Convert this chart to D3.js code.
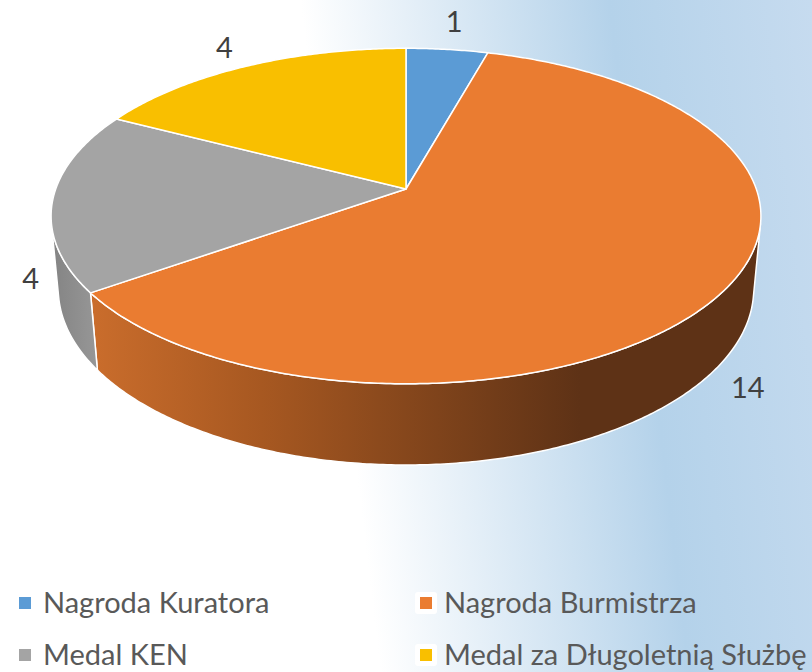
<!DOCTYPE html>
<html>
<head>
<meta charset="utf-8">
<script src="https://cdn.jsdelivr.net/npm/d3@7"></script>
<style>
  html, body { margin: 0; padding: 0; background: #fff; }
  svg { display: block; }
  text { font-family: Lato, "Noto Sans", sans-serif; }
</style>
</head>
<body>
<div id="chart"></div>
<script>
// Chart data
var categories = ['Nagroda Kuratora', 'Nagroda Burmistrza', 'Medal KEN', 'Medal za Długoletnią Służbę'];
var values = [1, 14, 4, 4];
var topColors = ['#5b9bd5', '#ea7c31', '#a4a4a4', '#f9bf00'];

var width = 812,
    height = 672;

// 3D projection set-up (tilted disc seen in perspective)
var cx = 406, cy = 189,
    focal = 1923, dist = 5.49,
    tilt = Math.asin(0.4664),
    depth = 0.238;

function project(theta, r, y) {
    var X = r * Math.sin(theta),
        Z = -r * Math.cos(theta),
        v = Z * Math.sin(tilt) - y * Math.cos(tilt),
        w = dist - Z * Math.cos(tilt) - y * Math.sin(tilt);
    return [cx + focal * X / w, cy + focal * v / w];
}

// wall faces the viewer where cos(theta) < -1/(dist*cos(tilt))
var edge = Math.acos(-1 / (dist * Math.cos(tilt)));
var visFrom = edge, visTo = 2 * Math.PI - edge;

var svg = d3.select('#chart').append('svg')
    .attr('width', width)
    .attr('height', height);

var defs = svg.append('defs');

// Background gradient: white on the left, light blue towards the right
var bg = defs.append('linearGradient')
    .attr('id', 'bg')
    .attr('gradientUnits', 'userSpaceOnUse')
    .attr('x1', 0).attr('y1', 0)
    .attr('x2', 800.6).attr('y2', -95.3);
bg.append('stop').attr('offset', 0).attr('stop-color', '#ffffff');
bg.append('stop').attr('offset', 0.37).attr('stop-color', '#ffffff');
bg.append('stop').attr('offset', 0.75).attr('stop-color', '#b4d2ea');
bg.append('stop').attr('offset', 1).attr('stop-color', '#c6dbef');

var sideOrange = defs.append('linearGradient')
    .attr('id', 'side1')
    .attr('gradientUnits', 'userSpaceOnUse')
    .attr('x1', 90).attr('y1', 0).attr('x2', 580).attr('y2', 0);
sideOrange.append('stop').attr('offset', 0).attr('stop-color', '#ca6d2c');
sideOrange.append('stop').attr('offset', 0.35).attr('stop-color', '#a75821');
sideOrange.append('stop').attr('offset', 1).attr('stop-color', '#5e3216');

var sideGray = defs.append('linearGradient')
    .attr('id', 'side2')
    .attr('gradientUnits', 'userSpaceOnUse')
    .attr('x1', 55).attr('y1', 0).attr('x2', 100).attr('y2', 0);
sideGray.append('stop').attr('offset', 0).attr('stop-color', '#858585');
sideGray.append('stop').attr('offset', 1).attr('stop-color', '#989898');

var sideFills = ['#4a7cab', 'url(#side1)', 'url(#side2)', '#c89a00'];

svg.append('rect')
    .attr('width', width)
    .attr('height', height)
    .attr('fill', 'url(#bg)');

var pie = d3.pie().sort(null).value(function(d) { return d; });
var arcs = pie(values);

var line = d3.line();

function rimPoints(a0, a1, y) {
    var n = Math.max(2, Math.ceil((a1 - a0) / 0.01));
    var pts = [];
    for (var i = 0; i <= n; i++) {
        pts.push(project(a0 + (a1 - a0) * i / n, 1, y));
    }
    return pts;
}

// Side walls (front half only)
var walls = svg.append('g');
arcs.forEach(function(a, i) {
    var a0 = Math.max(a.startAngle, visFrom),
        a1 = Math.min(a.endAngle, visTo);
    a.hasWall = a1 > a0;
    if (!a.hasWall) return;
    var pts = rimPoints(a0, a1, 0).concat(rimPoints(a0, a1, -depth).reverse());
    walls.append('path')
        .attr('d', line(pts) + 'Z')
        .attr('fill', sideFills[i])
        .attr('stroke', '#ffffff')
        .attr('stroke-width', 1.5)
        .attr('stroke-linejoin', 'round');
});

// Top faces
var tops = svg.append('g');
arcs.forEach(function(a, i) {
    var pts = [project(0, 0, 0)].concat(rimPoints(a.startAngle, a.endAngle, 0));
    tops.append('path')
        .attr('d', line(pts) + 'Z')
        .attr('fill', topColors[i])
        .attr('stroke', '#ffffff')
        .attr('stroke-width', 1.5)
        .attr('stroke-linejoin', 'round');
});

// Data labels, pushed out from the rim
var far = project(0, 1, 0), near = project(Math.PI, 1, 0);
var mid = [cx, (far[1] + near[1]) / 2];
var labels = svg.append('g');
arcs.forEach(function(a, i) {
    var m = (a.startAngle + a.endAngle) / 2;
    var p = project(m, 1, a.hasWall ? -depth : 0);
    var dx = p[0] - mid[0], dy = p[1] - mid[1];
    var len = Math.sqrt(dx * dx + dy * dy);
    var txt = String(values[i]);
    var off = 22 + txt.length * 7.5;
    labels.append('text')
        .attr('x', p[0] + dx / len * off)
        .attr('y', p[1] + dy / len * off)
        .attr('text-anchor', 'middle')
        .attr('dominant-baseline', 'central')
        .attr('font-size', 29)
        .attr('fill', '#404040')
        .text(txt);
});

// Legend
var legend = svg.append('g');
var colX = [19, 420], rowY = [613, 665];
categories.forEach(function(c, i) {
    var gx = colX[i % 2], gy = rowY[Math.floor(i / 2)];
    var item = legend.append('g').attr('transform', 'translate(' + gx + ',' + gy + ')');
    item.append('rect')
        .attr('x', -5).attr('y', -21)
        .attr('width', 22).attr('height', 22)
        .attr('rx', 3)
        .attr('fill', '#ffffff');
    item.append('rect')
        .attr('x', 0).attr('y', -16)
        .attr('width', 12).attr('height', 12)
        .attr('fill', topColors[i]);
    item.append('text')
        .attr('x', 24)
        .attr('y', 0)
        .attr('font-size', 29)
        .attr('fill', '#595959')
        .text(c);
});
</script>
</body>
</html>
